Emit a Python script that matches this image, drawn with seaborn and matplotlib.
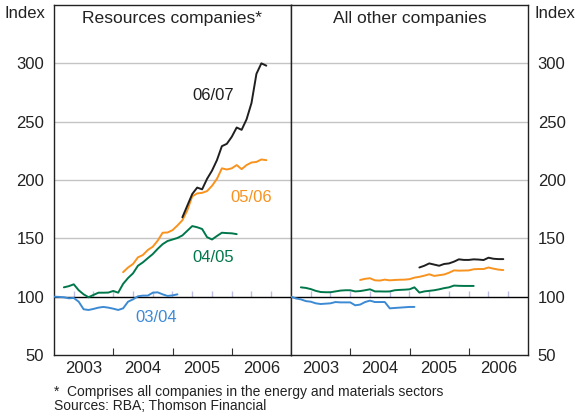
import numpy as np
import pandas as pd
import matplotlib
matplotlib.use("Agg")
import matplotlib.pyplot as plt
import seaborn as sns

# Monthly index values (start month = months after Jan 2003)
series_names = ["03/04", "04/05", "05/06", "06/07"]
series_start = {"03/04": 0, "04/05": 2, "05/06": 14, "06/07": 26}

resources = {
    "03/04": [100, 99.8, 99.5, 98.6, 98.9, 95.7, 89.2, 88.6, 89.5, 90.6, 91.2, 90.6,
              89.7, 88.6, 90.0, 95.7, 97.7, 100.3, 100.9, 100.9, 103.4, 103.7, 102.0,
              100.6, 101.1, 102.0],
    "04/05": [108, 109, 110.6, 105.5, 102, 99.5, 101.5, 103.4, 103.4, 103.5, 104.9,
              103.4, 111, 116, 120, 126.5, 129.4, 133, 136.5, 141, 145, 147.7, 149,
              150.3, 152.5, 156.5, 160.5, 159.5, 158, 151, 149, 152, 154.8, 154.5,
              154.3, 153.6],
    "05/06": [121, 125, 128, 133.7, 135.7, 140, 142.8, 148, 154.8, 155, 157, 161,
              165.5, 174, 186, 188.5, 189, 190.5, 195, 201, 210, 209, 210, 212.8,
              209.3, 212.8, 215, 215.5, 217.6, 217],
    "06/07": [168, 178, 188, 193.5, 192, 201, 208, 217, 229, 231, 237, 245, 243, 252,
              266, 291, 300, 298],
}

others = {
    "03/04": [100, 98.5, 97.7, 96.2, 95.7, 94.3, 93.7, 94.0, 94.3, 95.4, 95.1, 95.1,
              95.1, 92.6, 93.2, 95.4, 96.6, 95.4, 95.4, 95.4, 90.0, 90.3, 90.6, 90.9,
              91.2, 91.2],
    "04/05": [108, 107.5, 106.5, 105, 104, 103.8, 103.8, 104.5, 105.2, 105.5, 105.5,
              104.5, 104.8, 105.5, 106.3, 104.5, 104.5, 104.4, 104.5, 105.5, 105.8, 106,
              106.3, 108, 103.5, 104.5, 105, 105.5, 106.3, 107.3, 108, 109.5, 109.3,
              109.2, 109.2, 109.2],
    "05/06": [114.3, 115.3, 115.8, 114, 113.8, 114.6, 114, 114.3, 114.5, 114.6, 115,
              116.3, 117, 118, 119.2, 117.8, 118.4, 119, 120.5, 122.5, 122.3, 122.4,
              122.5, 123.5, 123.7, 123.7, 125, 124, 123.2, 122.8],
    "06/07": [125, 126.5, 128.5, 127.5, 126.5, 128, 128.5, 130, 132, 131.5, 131.5, 132,
              131.8, 131.4, 133.4, 132.5, 132.2, 132.2],
}

years = [2003, 2004, 2005, 2006]
y_ticks = [50, 100, 150, 200, 250, 300]

colors = {"03/04": "#3d8ad4", "04/05": "#00774a", "05/06": "#f7931e", "06/07": "#1f1f1f"}


def to_frame(values):
    rows = []
    for name in series_names:
        vals = values[name]
        start = series_start[name]
        for i, v in enumerate(vals):
            rows.append({"series": name, "date": 2003 + (start + i) / 12.0, "value": v})
    return pd.DataFrame(rows)


sns.set_theme(style="white")
plt.rcParams["font.family"] = ["Liberation Sans", "DejaVu Sans"]

fig = plt.figure(figsize=(5.77, 4.16), dpi=100)
ax_l = fig.add_axes([54 / 577, 61 / 416, 237 / 577, 350 / 416])
ax_r = fig.add_axes([291 / 577, 61 / 416, 237 / 577, 350 / 416])

for ax, values, title in [(ax_l, resources, "Resources companies*"),
                          (ax_r, others, "All other companies")]:
    ax.set_xlim(2003, 2007)
    ax.set_ylim(50, 350)
    for g in [150, 200, 250, 300]:
        ax.axhline(g, color="#c4c4c4", lw=1.0, zorder=1)
    # small markers every four months along the 100 line
    marks = np.arange(2003, 2007, 1 / 3)[1:]
    ax.vlines(marks, 100, 104.5, color="#bdbde6", lw=1.0, zorder=1)
    ax.axhline(100, color="black", lw=1.0, zorder=2)

    df = to_frame(values)
    sns.lineplot(data=df, x="date", y="value", hue="series", hue_order=series_names,
                 palette=colors, estimator=None, legend=False, lw=1.4, ax=ax, zorder=3)

    ax.set_xlabel("")
    ax.set_ylabel("")
    ax.set_xticks([2004, 2005, 2006])
    ax.set_xticks([y + 0.5 for y in years], minor=True)
    ax.set_xticklabels([str(y) for y in years], minor=True, fontsize=12, color="#222222")
    ax.set_xticklabels([])
    ax.tick_params(axis="x", which="major", direction="in", length=5, width=0.8,
                   color="#333333", bottom=True)
    ax.tick_params(axis="x", which="minor", length=0, pad=4)
    ax.set_yticks(y_ticks)
    ax.set_yticklabels([str(v) for v in y_ticks], fontsize=12, color="#222222")
    ax.tick_params(axis="y", length=0, pad=7)
    for s in ax.spines.values():
        s.set_color("#222222")
        s.set_linewidth(1.0)
        s.set_visible(True)
    ax.text(0.5, 1 - 13 / 350, title, transform=ax.transAxes, ha="center",
            va="center", fontsize=12.6, color="#222222")

ax_r.yaxis.tick_right()
ax_r.tick_params(axis="y", length=0, pad=7)

# series labels on the resources panel
ax_l.text(2005.69, 272, "06/07", color=colors["06/07"], fontsize=12, ha="center", va="center")
ax_l.text(2006.32, 185, "05/06", color=colors["05/06"], fontsize=12, ha="center", va="center")
ax_l.text(2005.68, 134, "04/05", color=colors["04/05"], fontsize=12, ha="center", va="center")
ax_l.text(2004.73, 82, "03/04", color=colors["03/04"], fontsize=12, ha="center", va="center")

fig.text(4 / 577, 1 - 14 / 416, "Index", fontsize=12, ha="left", va="center", color="#222222")
fig.text(535 / 577, 1 - 14 / 416, "Index", fontsize=12, ha="left", va="center", color="#222222")

fig.text(54 / 577, 1 - 392 / 416, "*", fontsize=10, ha="left", va="center", color="#222222")
fig.text(67 / 577, 1 - 392 / 416, "Comprises all companies in the energy and materials sectors",
         fontsize=10, ha="left", va="center", color="#222222")
fig.text(54 / 577, 1 - 406 / 416, "Sources: RBA; Thomson Financial",
         fontsize=10, ha="left", va="center", color="#222222")

fig.savefig("out.png", dpi=100)
